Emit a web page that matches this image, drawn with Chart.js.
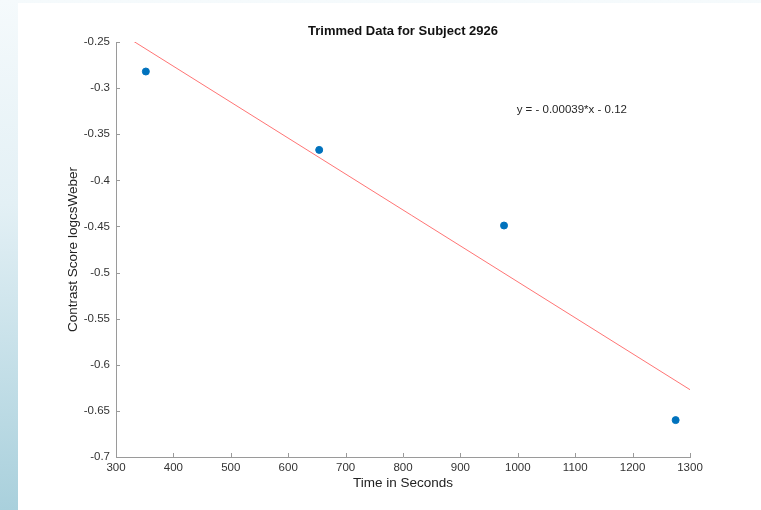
<!DOCTYPE html>
<html>
<head>
<meta charset="utf-8">
<script src="https://cdn.jsdelivr.net/npm/chart.js@4"></script>
<style>
  html, body { margin: 0; padding: 0; }
  body {
    width: 761px; height: 510px; overflow: hidden; position: relative;
    background: linear-gradient(to bottom, #f5fafc 0%, #e3f0f5 40%, #a9d0dc 100%);
  }
  #panel { position: absolute; left: 18px; top: 3px; width: 743px; height: 507px; background: #fff; }
</style>
</head>
<body>
<div id="panel"><canvas id="myChart" width="743" height="507"></canvas></div>
<script>
// data
const timeSec = [352, 654, 976, 1275];
const contrastScore = [-0.282, -0.367, -0.449, -0.660];
const fitX = [330, 1300];
const fitY = [-0.249, -0.627];
const fitLabel = 'y = - 0.00039*x - 0.12';
const chartTitle = 'Trimmed Data for Subject 2926';
const xTicks = [300, 400, 500, 600, 700, 800, 900, 1000, 1100, 1200, 1300];
const yTicks = [-0.7, -0.65, -0.6, -0.55, -0.5, -0.45, -0.4, -0.35, -0.3, -0.25];

const FONT = '"Liberation Sans", Arial, Helvetica, sans-serif';

// title over the plot box, small inward tick marks, equation text
const extras = {
  id: 'extras',
  afterDraw(chart) {
    const c = chart.ctx;
    const xs = chart.scales.x, ys = chart.scales.y;
    const area = chart.chartArea;
    c.save();
    c.strokeStyle = '#9a9a9a';
    c.lineWidth = 1;
    c.beginPath();
    xTicks.forEach(v => {
      const px = Math.round(xs.getPixelForValue(v)) + 0.5;
      c.moveTo(px, area.bottom);
      c.lineTo(px, area.bottom - 4);
    });
    yTicks.forEach(v => {
      const py = Math.round(ys.getPixelForValue(v)) + 0.5;
      c.moveTo(area.left, py);
      c.lineTo(area.left + 4, py);
    });
    c.stroke();

    c.textBaseline = 'middle';
    c.fillStyle = '#111';
    c.font = 'bold 13px ' + FONT;
    c.textAlign = 'center';
    c.fillText(chartTitle, (area.left + area.right) / 2, 28);

    c.fillStyle = '#262626';
    c.font = '11.5px ' + FONT;
    c.textAlign = 'left';
    c.fillText(fitLabel, xs.getPixelForValue(998), ys.getPixelForValue(-0.324));
    c.restore();
  }
};

const ctx = document.getElementById('myChart').getContext('2d');
const myChart = new Chart(ctx, {
  type: 'scatter',
  data: {
    datasets: [{
      label: 'Trimmed data',
      data: timeSec.map((t, i) => ({x: t, y: contrastScore[i]})),
      backgroundColor: '#0072bd',
      borderColor: '#0072bd',
      pointRadius: 3.5,
      pointHoverRadius: 3.5
    }, {
      label: 'Fit',
      data: fitX.map((t, i) => ({x: t, y: fitY[i]})),
      showLine: true,
      borderColor: 'rgba(255, 70, 70, 0.75)',
      borderWidth: 1,
      pointRadius: 0
    }]
  },
  options: {
    responsive: false,
    animation: false,
    layout: { padding: { left: 0, right: 71, top: 39, bottom: 0 } },
    plugins: {
      legend: { display: false },
      tooltip: { enabled: false },
      title: { display: false }
    },
    scales: {
      x: {
        type: 'linear',
        min: 300, max: 1300,
        afterBuildTicks: s => { s.ticks = xTicks.map(v => ({value: v})); },
        afterFit: s => { s.height = 53; },
        grid: { display: true, drawOnChartArea: false, drawTicks: false },
        border: { display: true, color: '#9a9a9a', width: 1 },
        ticks: {
          padding: 4, maxRotation: 0, autoSkip: false,
          color: '#333', font: { family: FONT, size: 11.5 },
          callback: v => String(v)
        },
        title: {
          display: true, text: 'Time in Seconds', color: '#222',
          font: { family: FONT, size: 13.5 },
          padding: { top: 0, bottom: 19 }
        }
      },
      y: {
        type: 'linear',
        min: -0.7, max: -0.25,
        afterBuildTicks: s => { s.ticks = yTicks.map(v => ({value: v})); },
        afterFit: s => { s.width = 98; },
        grid: { display: true, drawOnChartArea: false, drawTicks: false },
        border: { display: true, color: '#9a9a9a', width: 1 },
        ticks: {
          padding: 6, autoSkip: false,
          color: '#333', font: { family: FONT, size: 11.5 },
          callback: v => String(Math.round(v * 100) / 100)
        },
        title: {
          display: true, text: 'Contrast Score logcsWeber', color: '#222',
          font: { family: FONT, size: 13.5 },
          padding: { top: 47, bottom: 0 }
        }
      }
    }
  },
  plugins: [extras]
});
</script>
</body>
</html>
